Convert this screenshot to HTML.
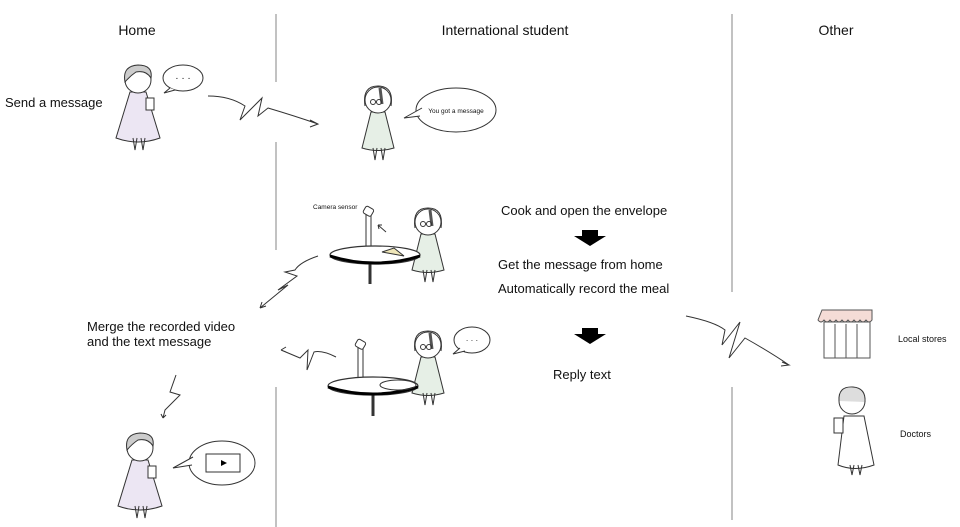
<!DOCTYPE html>
<html><head><meta charset="utf-8"><style>
body{margin:0;background:#fff}
svg{display:block}
text{font-family:"Liberation Sans",sans-serif;fill:#111}
</style></head><body>
<svg width="960" height="527" viewBox="0 0 960 527" xmlns="http://www.w3.org/2000/svg">
<defs>
<g id="gma" stroke="#333" stroke-width="1" fill="none">
 <path d="M-8,12 L-22,58 Q0,66 22,58 L8,12 Z" fill="#ece6f3"/>
 <path d="M-5,58 L-3,70 L-1,58 M3,58 L5,70 L7,58"/>
 <circle cx="0" cy="0" r="13" fill="#fff"/>
 <path d="M-13,2 Q-16,-14 0,-15 Q15,-15 13,-2 Q8,-10 -2,-8 Q-8,-4 -13,2Z" fill="#ccc"/>
 <rect x="8" y="18" width="8" height="12" fill="#fff"/>
</g>
<g id="stu" stroke="#333" stroke-width="1" fill="none">
 <path d="M-7,12 L-16,48 Q0,53 16,48 L7,12 Z" fill="#e6efe6"/>
 <path d="M-5,48 L-3,60 L-1,48 M3,48 L5,60 L7,48"/>
 <circle cx="0" cy="0" r="13" fill="#fff"/>
 <path d="M-13,6 Q-16,-14 0,-14 Q16,-14 13,6" />
 <path d="M2,-12 L4,4" stroke-width="3" stroke="#555"/>
 <circle cx="-5" cy="2" r="2.5"/><circle cx="1" cy="2" r="2.5"/>
</g>
</defs>
<g stroke="#999" stroke-width="1.2">
 <line x1="276" y1="14" x2="276" y2="82"/>
 <line x1="276" y1="142" x2="276" y2="250"/>
 <line x1="276" y1="387" x2="276" y2="527"/>
 <line x1="732" y1="14" x2="732" y2="292"/>
 <line x1="732" y1="387" x2="732" y2="520"/>
</g>
<text x="137" y="35" font-size="14" text-anchor="middle">Home</text>
<text x="505" y="35" font-size="14" text-anchor="middle">International student</text>
<text x="836" y="35" font-size="14" text-anchor="middle">Other</text>
<text x="5" y="107" font-size="13">Send a message</text>
<text x="501" y="215" font-size="13">Cook and open the envelope</text>
<text x="498" y="269" font-size="13">Get the message from home</text>
<text x="498" y="293" font-size="13">Automatically record the meal</text>
<text x="553" y="379" font-size="13">Reply text</text>
<text x="87" y="331" font-size="13">Merge the recorded video</text>
<text x="87" y="346" font-size="13">and the text message</text>
<text x="313" y="209" font-size="6.5">Camera sensor</text>
<text x="898" y="342" font-size="9">Local stores</text>
<text x="900" y="437" font-size="9">Doctors</text>
<path d="M582,230 h16 v6 h8 l-16,10 l-16,-10 h8z" fill="#000"/>
<path d="M582,328 h16 v6 h8 l-16,10 l-16,-10 h8z" fill="#000"/>
<use href="#gma" x="138" y="80"/>
<use href="#gma" x="140" y="448"/>
<use href="#stu" x="378" y="100"/>
<use href="#stu" x="428" y="222"/>
<use href="#stu" x="428" y="345"/>
<g stroke="#333" stroke-width="1" fill="#fff">
 <ellipse cx="183" cy="78" rx="20" ry="13"/><path d="M170,88 L164,93 L175,90" />
 <ellipse cx="456" cy="110" rx="40" ry="22"/><path d="M420,116 L404,118 L422,108"/>
 <ellipse cx="472" cy="340" rx="18" ry="13"/><path d="M460,348 L453,354 L465,351"/>
 <ellipse cx="222" cy="463" rx="33" ry="22"/><path d="M192,465 L173,468 L193,457"/>
 <rect x="206" y="454" width="34" height="18"/>
</g>
<path d="M221,460 l6,3 l-6,3z" fill="#000"/>
<text x="456" y="113" font-size="6.5" text-anchor="middle">You got a message</text>
<text x="183" y="81" font-size="10" text-anchor="middle">· · ·</text>
<text x="472" y="343" font-size="8" text-anchor="middle">· · ·</text>
<!-- tables -->
<g stroke="#333" stroke-width="1">
 <rect x="366" y="212" width="5" height="38" fill="#fff"/>
 <rect x="364" y="207" width="9" height="8" rx="2" fill="#fff" transform="rotate(30 368 211)"/>
 <line x1="370" y1="262" x2="370" y2="284" stroke-width="3"/>
 <ellipse cx="375" cy="255" rx="45" ry="9" fill="#fff" stroke-width="1.2"/>
 <path d="M330,256 Q375,270 420,256" stroke-width="3" fill="none" stroke="#000"/>
 <path d="M382,252 l12,-4 l10,8z" fill="#efe6b8"/>
 <path d="M386,232 l-8,-7 m0,0 l1,4 m-1,-4 l4,0" fill="none"/>
 <rect x="358" y="345" width="5" height="38" fill="#fff"/>
 <rect x="356" y="340" width="9" height="8" rx="2" fill="#fff" transform="rotate(30 360 344)"/>
 <line x1="373" y1="395" x2="373" y2="416" stroke-width="3"/>
 <ellipse cx="373" cy="386" rx="45" ry="9" fill="#fff" stroke-width="1.2"/>
 <path d="M328,387 Q373,401 418,387" stroke-width="3" fill="none" stroke="#000"/>
 <ellipse cx="398" cy="385" rx="18" ry="5" fill="none"/>
</g>
<!-- zigzags -->
<g stroke="#333" stroke-width="1" fill="none">
 <path d="M208,96 Q230,96 245,106 L240,120 L262,98 L258,116 L268,108 Q295,116 318,124 M310,120 l8,4 l-8,3"/>
 <path d="M318,256 Q300,262 295,270 L285,272 L297,276 L278,290 L288,285 L260,308 M260,308 l2,-6 m-2,6 l6,-2"/>
 <path d="M336,357 Q322,350 314,352 L307,370 L308,350 L300,358 L281,350 M281,350 l5,-3 m-5,3 l5,2"/>
 <path d="M176,375 L170,392 L180,395 L165,410 L163,418 M163,418 l-2,-4 m2,4 l3,-3"/>
 <path d="M686,316 Q715,322 725,330 L722,345 L740,322 L729,358 L745,338 Q770,352 789,365 M782,362 l7,3 l-8,1"/>
</g>
<!-- store -->
<g stroke="#555" stroke-width="1">
 <rect x="824" y="322" width="46" height="36" fill="#fff"/>
 <path d="M826,322 h42 M835,324 v34 M846,324 v34 M857,324 v34"/>
 <path d="M822,310 h50 v10 q-3,4 -6,0 q-3,4 -6,0 q-3,4 -6,0 q-3,4 -6,0 q-3,4 -6,0 q-3,4 -6,0 q-3,4 -6,0 q-3,4 -6,0 q-3,4 -6,0 z" fill="#f5dcd6"/>
</g>
<!-- doctor -->
<g stroke="#333" stroke-width="1" fill="#fff">
 <path d="M844,416 L838,465 Q855,472 874,465 L864,416 Z"/>
 <path d="M850,465 l2,10 l2,-10 M858,465 l2,10 l2,-10" fill="none"/>
 <circle cx="852" cy="401" r="13"/>
 <path d="M839,401 Q838,386 853,387 Q866,388 865,402" fill="#ddd"/>
 <rect x="834" y="418" width="9" height="15"/>
</g>
</svg>
</body></html>
